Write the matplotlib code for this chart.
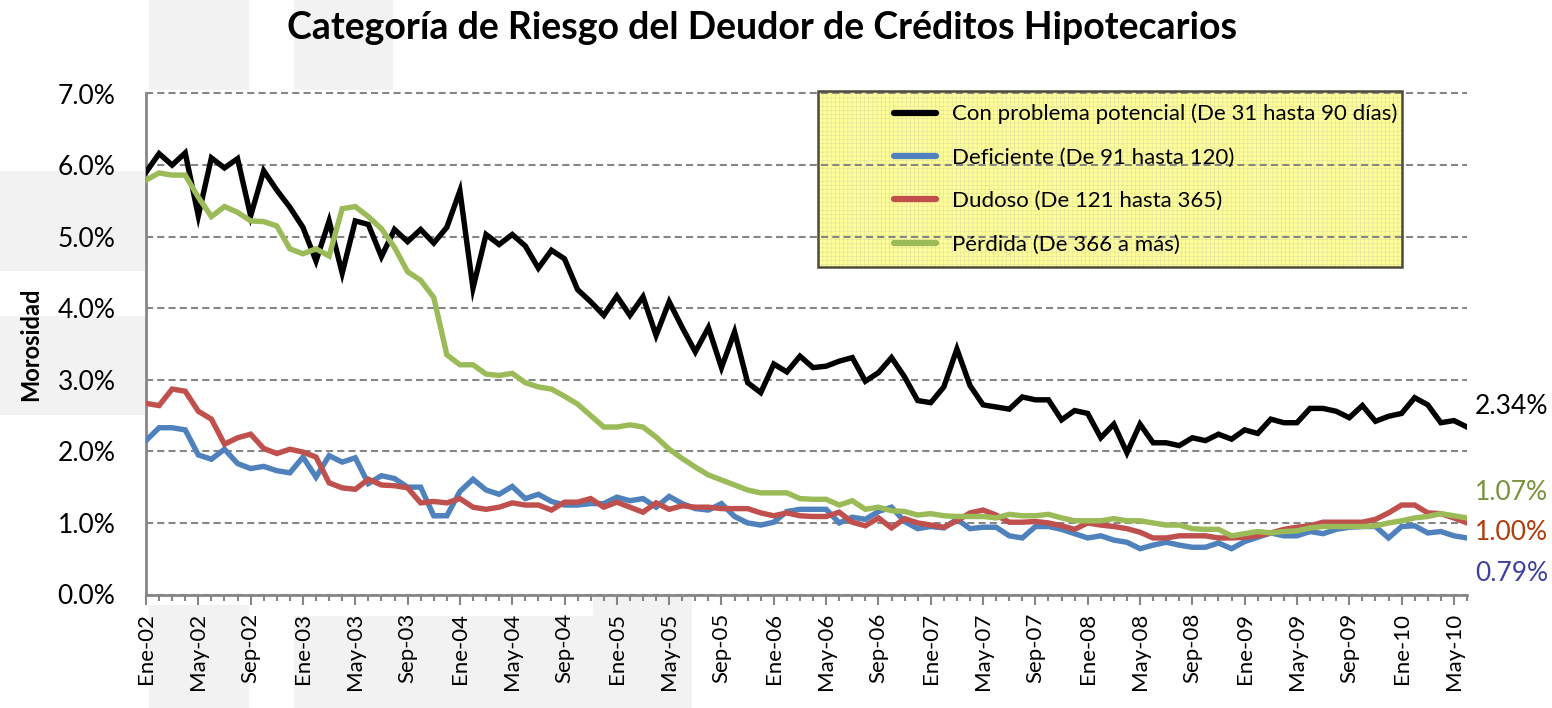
import matplotlib
matplotlib.use("Agg")
import matplotlib.pyplot as plt
import numpy as np
from matplotlib.patches import Rectangle
from matplotlib.ticker import FixedLocator, MultipleLocator, FuncFormatter

plt.rcParams['font.family'] = ['Lato', 'DejaVu Sans']

# Data (monthly, Ene-02 .. Jun-10), in %
meses = ['Ene', 'Feb', 'Mar', 'Abr', 'May', 'Jun', 'Jul', 'Ago', 'Sep', 'Oct', 'Nov', 'Dic']
anios = ['02', '03', '04', '05', '06', '07', '08', '09', '10']

potencial = [5.90, 6.16, 6.00, 6.17, 5.29, 6.10, 5.96, 6.09, 5.29, 5.92,
             5.65, 5.41, 5.13, 4.66, 5.22, 4.49, 5.22, 5.17, 4.72, 5.10,
             4.93, 5.10, 4.91, 5.13, 5.64, 4.28, 5.03, 4.89, 5.03, 4.87,
             4.56, 4.81, 4.69, 4.26, 4.09, 3.90, 4.17, 3.90, 4.16, 3.62,
             4.09, 3.73, 3.39, 3.73, 3.17, 3.67, 2.96, 2.82, 3.22, 3.11,
             3.33, 3.17, 3.19, 3.26, 3.31, 2.98, 3.10, 3.31, 3.04, 2.71,
             2.68, 2.90, 3.43, 2.92, 2.65, 2.62, 2.59, 2.76, 2.72, 2.72,
             2.44, 2.57, 2.53, 2.19, 2.38, 1.98, 2.38, 2.12, 2.12, 2.08,
             2.19, 2.15, 2.24, 2.17, 2.30, 2.25, 2.45, 2.40, 2.40, 2.60,
             2.60, 2.56, 2.47, 2.64, 2.42, 2.49, 2.53, 2.75, 2.65, 2.40,
             2.43, 2.34]

deficiente = [2.15, 2.33, 2.33, 2.30, 1.95, 1.89, 2.03, 1.83, 1.76, 1.79,
              1.73, 1.70, 1.92, 1.64, 1.94, 1.85, 1.91, 1.55, 1.66, 1.62,
              1.50, 1.50, 1.10, 1.10, 1.44, 1.61, 1.46, 1.40, 1.51, 1.34,
              1.40, 1.30, 1.25, 1.25, 1.27, 1.27, 1.36, 1.31, 1.34, 1.22,
              1.37, 1.27, 1.20, 1.18, 1.27, 1.09, 1.00, 0.97, 1.01, 1.16,
              1.19, 1.19, 1.19, 1.00, 1.08, 1.05, 1.16, 1.22, 1.02, 0.92,
              0.95, 0.93, 1.05, 0.92, 0.94, 0.94, 0.82, 0.79, 0.95, 0.95,
              0.91, 0.85, 0.79, 0.82, 0.76, 0.73, 0.64, 0.69, 0.73, 0.69,
              0.66, 0.66, 0.72, 0.64, 0.74, 0.80, 0.86, 0.82, 0.82, 0.88,
              0.85, 0.91, 0.94, 0.95, 0.95, 0.79, 0.95, 0.96, 0.86, 0.88,
              0.82, 0.79]

dudoso = [2.67, 2.64, 2.87, 2.84, 2.56, 2.45, 2.10, 2.19, 2.24, 2.04,
          1.97, 2.03, 1.99, 1.92, 1.56, 1.49, 1.47, 1.61, 1.53, 1.52,
          1.49, 1.28, 1.30, 1.28, 1.34, 1.22, 1.19, 1.22, 1.28, 1.25,
          1.25, 1.18, 1.29, 1.29, 1.34, 1.22, 1.29, 1.22, 1.15, 1.28,
          1.19, 1.24, 1.22, 1.22, 1.20, 1.20, 1.20, 1.14, 1.10, 1.14,
          1.10, 1.09, 1.09, 1.15, 1.01, 0.96, 1.07, 0.93, 1.06, 1.00,
          0.97, 0.94, 1.03, 1.14, 1.18, 1.11, 1.01, 1.01, 1.02, 1.00,
          0.96, 0.91, 1.00, 0.97, 0.95, 0.92, 0.87, 0.79, 0.79, 0.82,
          0.82, 0.82, 0.79, 0.79, 0.80, 0.82, 0.86, 0.91, 0.94, 0.96,
          1.01, 1.01, 1.01, 1.01, 1.05, 1.14, 1.25, 1.25, 1.14, 1.13,
          1.07, 1.00]

perdida = [5.79, 5.89, 5.86, 5.86, 5.55, 5.28, 5.42, 5.34, 5.22, 5.21,
           5.15, 4.83, 4.76, 4.83, 4.73, 5.39, 5.42, 5.28, 5.11, 4.85,
           4.51, 4.39, 4.15, 3.35, 3.21, 3.21, 3.08, 3.06, 3.09, 2.96,
           2.90, 2.87, 2.77, 2.66, 2.50, 2.34, 2.34, 2.37, 2.34, 2.20,
           2.03, 1.90, 1.78, 1.67, 1.60, 1.53, 1.46, 1.42, 1.42, 1.42,
           1.34, 1.33, 1.33, 1.25, 1.31, 1.19, 1.22, 1.17, 1.16, 1.11,
           1.13, 1.10, 1.09, 1.09, 1.09, 1.07, 1.12, 1.10, 1.10, 1.12,
           1.07, 1.03, 1.03, 1.03, 1.06, 1.03, 1.03, 1.00, 0.97, 0.97,
           0.92, 0.91, 0.91, 0.82, 0.85, 0.88, 0.86, 0.88, 0.89, 0.93,
           0.95, 0.95, 0.95, 0.95, 0.96, 1.00, 1.03, 1.07, 1.09, 1.13,
           1.10, 1.07]

# (label, values, line colour, end-label colour, end-label height in %)
series = [
    ('Con problema potencial (De 31 hasta 90 días)', potencial, '#000000', '#000000', 2.62),
    ('Deficiente (De 91 hasta 120)', deficiente, '#4F81BD', '#4040A0', 0.30),
    ('Dudoso (De 121 hasta 365)', dudoso, '#C0504D', '#B03C0C', 0.86),
    ('Pérdida (De 366 a más)', perdida, '#9BBB59', '#77933C', 1.42),
]

etiquetas = [m + '-' + a for a in anios for m in meses][:len(potencial)]
x = np.arange(len(potencial))

fig = plt.figure(figsize=(15.52, 7.08), dpi=100)
ax = fig.add_axes([146 / 1552, 1 - 594.5 / 708, 1321 / 1552, 501 / 708])

# faint grey blocks around the chart (as in the screenshot)
for (x0, y0, x1, y1) in [(149, 0, 249, 90), (294, 0, 393, 90), (0, 171, 145, 271),
                         (0, 316, 145, 415), (149, 605, 249, 708), (294, 616, 692, 708),
                         (593, 597, 692, 616)]:
    fig.add_artist(Rectangle((x0 / 1552, 1 - y1 / 708), (x1 - x0) / 1552, (y1 - y0) / 708,
                             transform=fig.transFigure, facecolor='#f2f2f2',
                             edgecolor='none', zorder=-5))

for nombre, vals, color, _, _ in series:
    ax.plot(x, np.array(vals) / 100, color=color, lw=3.9, label=nombre,
            solid_joinstyle='miter', zorder=3)

ax.set_xlim(0, len(x) - 1)
ax.set_ylim(0, 0.07)
ax.yaxis.set_major_locator(MultipleLocator(0.01))
ax.yaxis.set_major_formatter(FuncFormatter(lambda v, p: f'{v * 100:.1f}%'))
ax.xaxis.set_major_locator(FixedLocator(x[::4]))
ax.xaxis.set_minor_locator(FixedLocator(x))
ax.set_xticklabels(etiquetas[::4], rotation=90, fontsize=16)
ax.tick_params(axis='y', length=0, labelsize=19, pad=22)
ax.tick_params(axis='x', which='major', length=7, width=1.5, color='#868686', pad=6,
               direction='out')
ax.tick_params(axis='x', which='minor', length=4, width=1.5, color='#868686',
               direction='out')

ax.grid(axis='y', color='#868686', linestyle=(0, (3.4, 2)), lw=1.5)
ax.set_axisbelow(True)
for gl in ax.get_ygridlines():
    gl.set_clip_on(False)
for s in ['top', 'right']:
    ax.spines[s].set_visible(False)
for s in ['left', 'bottom']:
    ax.spines[s].set_color('#868686')
    ax.spines[s].set_linewidth(2)

ax.set_ylabel('Morosidad', fontsize=17, fontweight='bold', labelpad=11)
fig.text(762 / 1552, 1 - 28 / 708, 'Categoría de Riesgo del Deudor de Créditos Hipotecarios',
         ha='center', va='center', fontsize=27, fontweight='bold')

# legend box with pale yellow grid fill
lx0, lx1 = (818 - 146) / 1321, (1402 - 146) / 1321
ly0, ly1 = (594.5 - 267) / 501, (594.5 - 91) / 501
plt.rcParams['hatch.linewidth'] = 0.4
ax.add_patch(Rectangle((lx0, ly0), lx1 - lx0, ly1 - ly0, transform=ax.transAxes,
                       facecolor='#ffff99', edgecolor='#e0e0a0', lw=0, hatch='++++',
                       zorder=0.2, clip_on=False))
ax.add_patch(Rectangle((lx0, ly0), lx1 - lx0, ly1 - ly0, transform=ax.transAxes,
                       facecolor='none', edgecolor='#4d4b3a', lw=1.8, zorder=4,
                       clip_on=False))
leg = ax.legend(loc='upper left', bbox_to_anchor=((885 - 146) / 1321, (594.5 - 95) / 501),
                frameon=False, fontsize=16, handlelength=1.9, handletextpad=0.7,
                labelspacing=1.05, borderaxespad=0)
for h in leg.get_lines():
    h.set_linewidth(4.5)
    h.set_solid_capstyle('round')

# end-of-line labels
for nombre, vals, color, tcol, yy in series:
    ax.text(len(x) - 1 + 0.6, yy / 100, f'{vals[-1]:.2f}%', color=tcol, fontsize=19,
            ha='left', va='center', clip_on=False)

fig.savefig('out.png', dpi=100)
